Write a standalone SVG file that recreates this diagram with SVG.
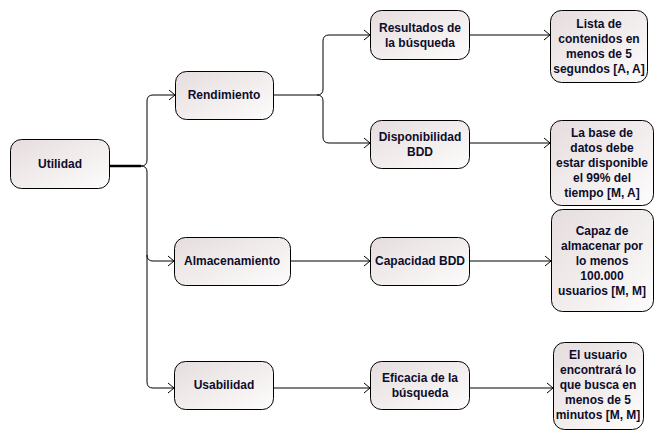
<svg xmlns="http://www.w3.org/2000/svg" width="664" height="439" viewBox="0 0 664 439">
<style>
.box{fill:url(#g);stroke:#000;stroke-width:1}
.t{font-family:"Liberation Sans",Arial,sans-serif;font-size:12px;font-weight:bold;fill:#0d0d2b;text-anchor:middle}
.c{fill:none;stroke:#000;stroke-width:1}
</style>
<defs>
<linearGradient id="g" x1="0" y1="0" x2="1" y2="1">
<stop offset="0" stop-color="#e6dddd"/>
<stop offset="1" stop-color="#fdfcfc"/>
</linearGradient>
<marker id="a" markerWidth="8" markerHeight="12" refX="7" refY="6" orient="auto" markerUnits="userSpaceOnUse">
<path d="M1,1 L7,6 L1,11" fill="none" stroke="#000" stroke-width="1"/>
</marker>
</defs>
<rect width="664" height="439" fill="#fff"/>
<g id="connectors">
<path d="M110,166 H141" stroke="#000" stroke-width="2.5" fill="none"/>
<path class="c" d="M141,166 Q147,166 147,160 V101 Q147,95 153,95 H175" marker-end="url(#a)"/>
<path class="c" d="M141,166 Q147,166 147,172 V255 Q147,261 153,261 H174" marker-end="url(#a)"/>
<path class="c" d="M147,255 V382 Q147,388 153,388 H174" marker-end="url(#a)"/>
<path class="c" d="M273,95 H317 Q323,95 323,89 V41 Q323,35 329,35 H370" marker-end="url(#a)"/>
<path class="c" d="M317,95 Q323,95 323,101 V137 Q323,143 329,143 H370" marker-end="url(#a)"/>
<path class="c" d="M469,35 H550" marker-end="url(#a)"/>
<path class="c" d="M469,143 H550" marker-end="url(#a)"/>
<path class="c" d="M290,261 H370" marker-end="url(#a)"/>
<path class="c" d="M469,261 H551" marker-end="url(#a)"/>
<path class="c" d="M273,388 H370" marker-end="url(#a)"/>
<path class="c" d="M469,388 H553" marker-end="url(#a)"/>
</g>
<g id="utilidad"><rect class="box" x="10.5" y="139.5" width="99" height="49" rx="11"/><text class="t" x="60" y="168">Utilidad</text></g>
<g id="rendimiento"><rect class="box" x="175.5" y="71.5" width="98" height="48" rx="11"/><text class="t" x="224" y="99">Rendimiento</text></g>
<g id="almacenamiento"><rect class="box" x="174.5" y="237.5" width="116" height="48" rx="11"/><text class="t" x="232" y="265">Almacenamiento</text></g>
<g id="usabilidad"><rect class="box" x="174.5" y="361.5" width="99" height="48" rx="11"/><text class="t" x="224" y="389">Usabilidad</text></g>
<g id="resultados"><rect class="box" x="370.5" y="10.5" width="99" height="49" rx="11"/><text class="t" x="420" y="32">Resultados de</text><text class="t" x="420" y="47">la búsqueda</text></g>
<g id="disponibilidad"><rect class="box" x="370.5" y="120.5" width="99" height="48" rx="11"/><text class="t" x="420" y="141">Disponibilidad</text><text class="t" x="420" y="156">BDD</text></g>
<g id="capacidad"><rect class="box" x="370.5" y="237.5" width="99" height="48" rx="11"/><text class="t" x="420" y="265">Capacidad BDD</text></g>
<g id="eficacia"><rect class="box" x="370.5" y="361.5" width="99" height="48" rx="11"/><text class="t" x="420" y="382">Eficacia de la</text><text class="t" x="420" y="397">búsqueda</text></g>
<g id="lista"><rect class="box" x="550.5" y="10.5" width="97" height="72" rx="11"/><text class="t" x="599" y="28">Lista de</text><text class="t" x="599" y="43">contenidos en</text><text class="t" x="599" y="58">menos de 5</text><text class="t" x="599" y="73">segundos [A, A]</text></g>
<g id="labase"><rect class="box" x="550.5" y="120.5" width="103" height="85" rx="11"/><text class="t" x="602" y="137">La base de</text><text class="t" x="602" y="152">datos debe</text><text class="t" x="602" y="167">estar disponible</text><text class="t" x="602" y="182">el 99% del</text><text class="t" x="602" y="197">tiempo [M, A]</text></g>
<g id="capaz"><rect class="box" x="551.5" y="209.5" width="102" height="102" rx="11"/><text class="t" x="602" y="235">Capaz de</text><text class="t" x="602" y="250">almacenar por</text><text class="t" x="602" y="265">lo menos</text><text class="t" x="602" y="280">100.000</text><text class="t" x="602" y="295">usuarios [M, M]</text></g>
<g id="elusuario"><rect class="box" x="553.5" y="342.5" width="90" height="87" rx="11"/><text class="t" x="598" y="359">El usuario</text><text class="t" x="598" y="374">encontrará lo</text><text class="t" x="598" y="389">que busca en</text><text class="t" x="598" y="404">menos de 5</text><text class="t" x="598" y="419">minutos [M, M]</text></g>
</svg>
